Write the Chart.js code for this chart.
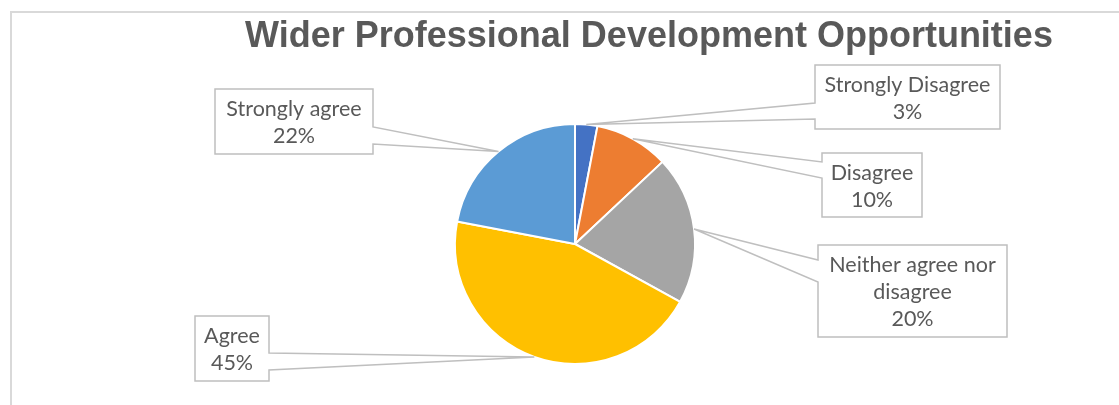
<!DOCTYPE html>
<html>
<head>
<meta charset="utf-8">
<script src="https://cdn.jsdelivr.net/npm/chart.js@4.4.1/dist/chart.umd.min.js"></script>
<style>
  html, body { margin: 0; padding: 0; background: #ffffff; overflow: hidden; }
  #wrap { position: relative; width: 1119px; height: 405px; }
</style>
</head>
<body>
<div id="wrap"><canvas id="pie" width="1119" height="405"></canvas></div>
<script>
// Survey responses
const chartTitle = 'Wider Professional Development Opportunities';
const categories = ['Strongly Disagree', 'Disagree', 'Neither agree nor disagree', 'Agree', 'Strongly agree'];
const percentages = [3, 10, 20, 45, 22];
const sliceColours = ['#4472C4', '#ED7D31', '#A5A5A5', '#FFC000', '#5B9BD5'];
// How each category name wraps inside its callout
const labelLines = [['Strongly Disagree'], ['Disagree'], ['Neither agree nor', 'disagree'], ['Agree'], ['Strongly agree']];

// Callout boxes: position, size, which side the pointer leaves from, and where its base sits
const callouts = [
  { x: 815, y: 65,  w: 185, h: 64, side: 'left',  base: [103, 119] },
  { x: 822, y: 153, w: 100, h: 64, side: 'left',  base: [162, 178] },
  { x: 818, y: 245, w: 189, h: 92, side: 'left',  base: [260, 282] },
  { x: 195, y: 316, w: 74,  h: 65, side: 'right', base: [353, 370] },
  { x: 215, y: 89,  w: 158, h: 65, side: 'right', base: [127, 144] }
];

const textColour = '#595959';
const calloutBorder = '#BFBFBF';
const labelFont = '21.5px Lato, "Open Sans", sans-serif';
const titleFont = 'bold 36px "Liberation Sans", Arial, sans-serif';
const lineGap = 27;

const framePlugin = {
  id: 'frame',
  beforeDraw(chart) {
    const ctx = chart.ctx;
    ctx.save();
    ctx.strokeStyle = '#D9D9D9';
    ctx.lineWidth = 2;
    ctx.beginPath();
    ctx.moveTo(11, chart.height);
    ctx.lineTo(11, 12);
    ctx.lineTo(chart.width, 12);
    ctx.stroke();
    ctx.restore();
  }
};

const calloutPlugin = {
  id: 'callouts',
  afterDatasetsDraw(chart) {
    const ctx = chart.ctx;
    const meta = chart.getDatasetMeta(0);
    const values = chart.data.datasets[0].data;
    ctx.save();
    meta.data.forEach((arc, i) => {
      const p = arc.getProps(['x', 'y', 'startAngle', 'endAngle', 'outerRadius'], true);
      const mid = (p.startAngle + p.endAngle) / 2;
      const tipX = p.x + Math.cos(mid) * p.outerRadius;
      const tipY = p.y + Math.sin(mid) * p.outerRadius;
      const c = callouts[i];

      ctx.beginPath();
      if (c.side === 'left') {
        ctx.moveTo(c.x, c.y);
        ctx.lineTo(c.x + c.w, c.y);
        ctx.lineTo(c.x + c.w, c.y + c.h);
        ctx.lineTo(c.x, c.y + c.h);
        ctx.lineTo(c.x, c.base[1]);
        ctx.lineTo(tipX, tipY);
        ctx.lineTo(c.x, c.base[0]);
      } else {
        ctx.moveTo(c.x, c.y);
        ctx.lineTo(c.x + c.w, c.y);
        ctx.lineTo(c.x + c.w, c.base[0]);
        ctx.lineTo(tipX, tipY);
        ctx.lineTo(c.x + c.w, c.base[1]);
        ctx.lineTo(c.x + c.w, c.y + c.h);
        ctx.lineTo(c.x, c.y + c.h);
      }
      ctx.closePath();
      ctx.fillStyle = '#ffffff';
      ctx.fill();
      ctx.strokeStyle = calloutBorder;
      ctx.lineWidth = 1.5;
      ctx.stroke();

      const lines = labelLines[i].concat([values[i] + '%']);
      ctx.fillStyle = textColour;
      ctx.font = labelFont;
      ctx.textAlign = 'center';
      ctx.textBaseline = 'alphabetic';
      const cx = c.x + c.w / 2;
      const first = c.y + c.h / 2 - (lines.length - 1) * lineGap / 2 + 8;
      lines.forEach((t, k) => ctx.fillText(t, cx, first + k * lineGap));
    });
    ctx.restore();
  },
  afterDraw(chart) {
    const ctx = chart.ctx;
    ctx.save();
    ctx.fillStyle = textColour;
    ctx.font = titleFont;
    ctx.textAlign = 'center';
    ctx.textBaseline = 'alphabetic';
    ctx.fillText(chartTitle, 649, 47);
    ctx.restore();
  }
};

new Chart(document.getElementById('pie'), {
  type: 'pie',
  data: {
    labels: categories,
    datasets: [{
      data: percentages,
      backgroundColor: sliceColours,
      borderColor: '#ffffff',
      borderWidth: 2
    }]
  },
  options: {
    responsive: false,
    animation: false,
    devicePixelRatio: 1,
    layout: { padding: { left: 454, right: 423, top: 123, bottom: 40 } },
    plugins: {
      legend: { display: false },
      title: { display: false },
      tooltip: { enabled: false }
    }
  },
  plugins: [framePlugin, calloutPlugin]
});
</script>
</body>
</html>
